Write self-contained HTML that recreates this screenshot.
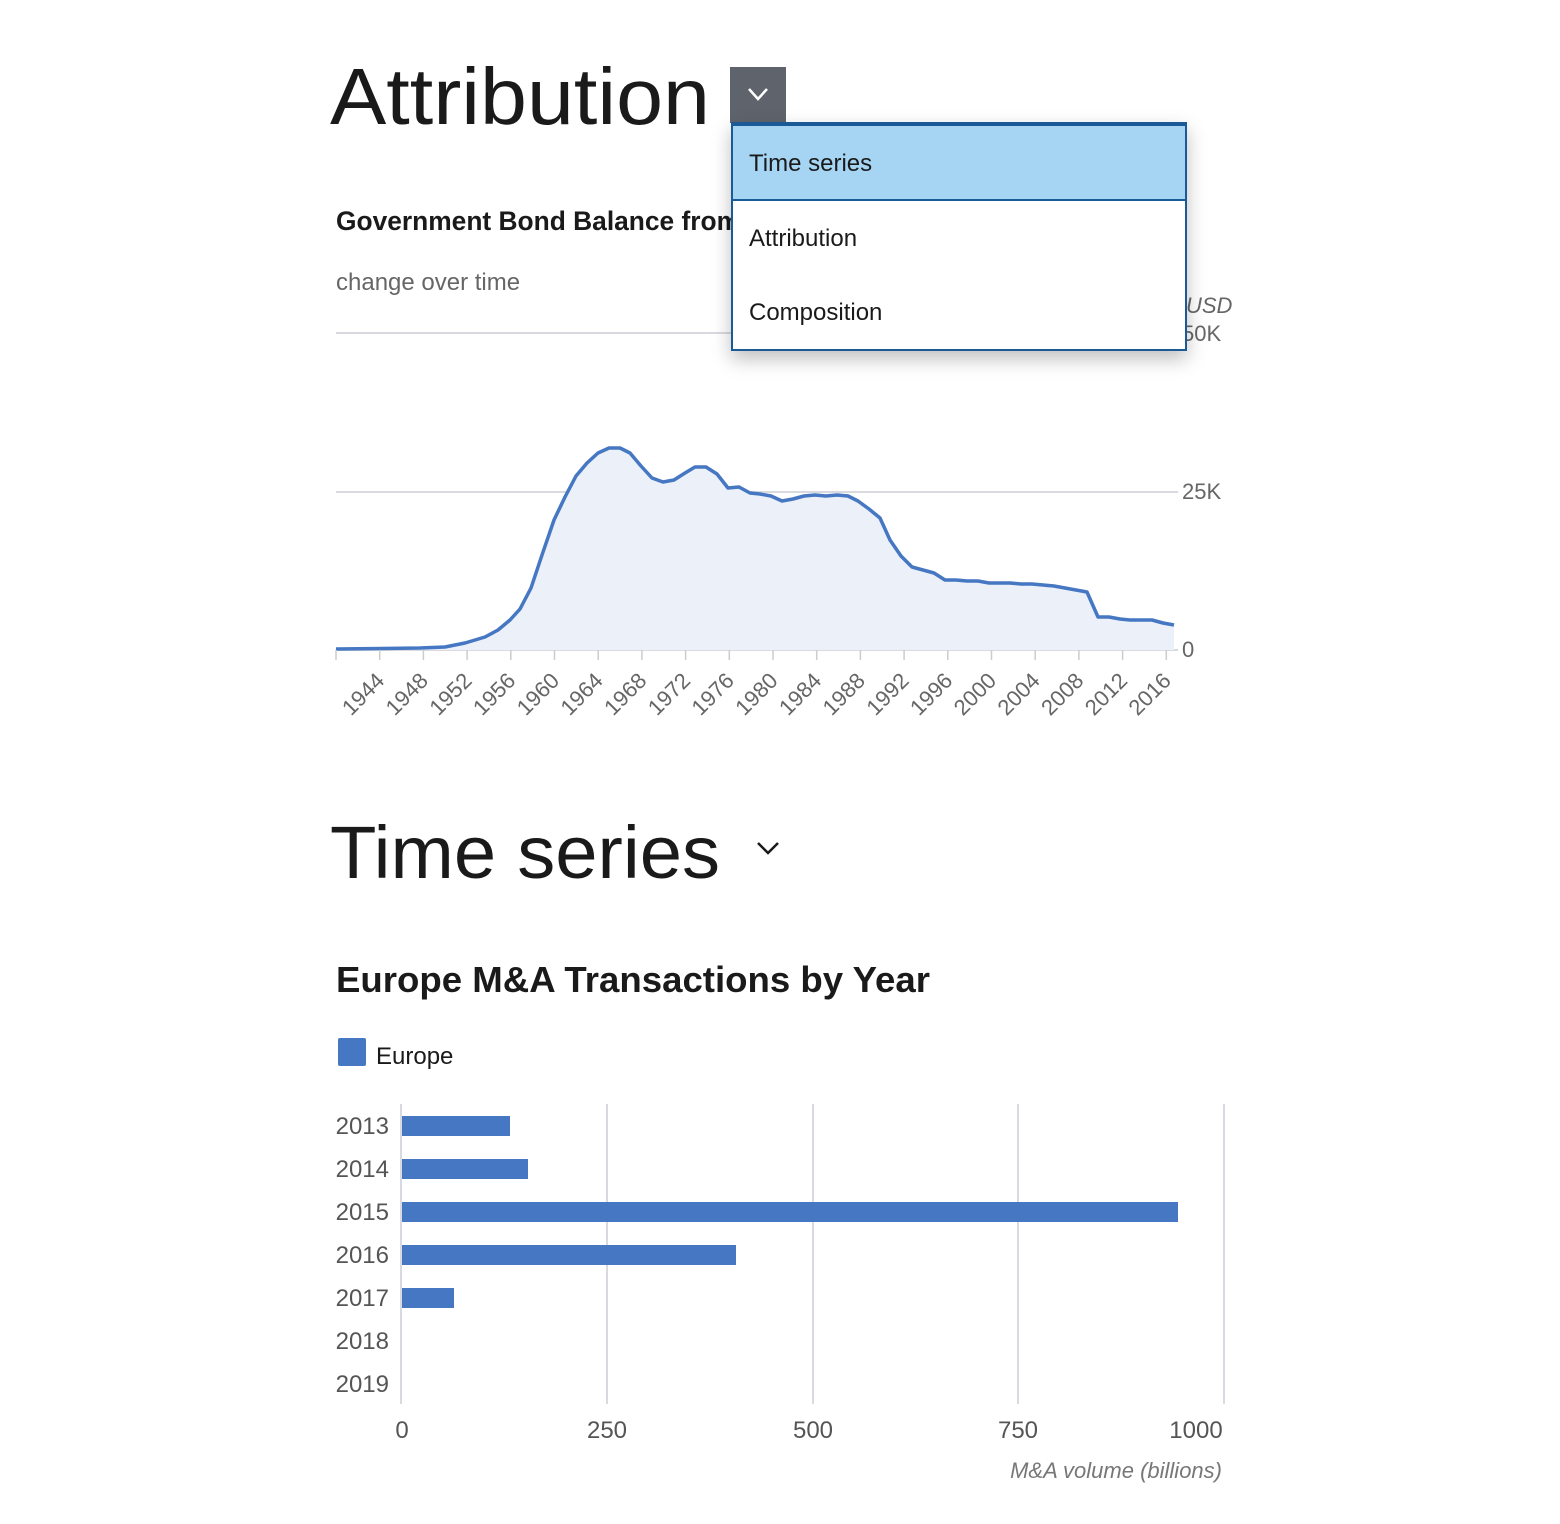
<!DOCTYPE html>
<html><head><meta charset="utf-8"><style>
html,body{margin:0;padding:0;background:#fff;}
body{width:1560px;height:1524px;position:relative;overflow:hidden;font-family:"Liberation Sans",sans-serif;}
svg text{font-family:"Liberation Sans",sans-serif;}
.dd{position:absolute;left:731px;top:122px;width:452px;height:223px;border:2px solid #1a5a96;border-top:4px solid #1a5a96;background:#fff;box-shadow:0 8px 18px rgba(0,0,0,0.25);}
.it{height:74px;font-size:24px;color:#1a1a1a;padding-left:16px;box-sizing:border-box;line-height:76px;}
.it.sel{background:#a6d5f3;border-bottom:2px solid #1a5a96;height:75px;}
</style></head><body>
<svg width="1560" height="1524" style="position:absolute;left:0;top:0">
<text x="330" y="124" font-size="80" fill="#1a1a1a" textLength="380" lengthAdjust="spacingAndGlyphs">Attribution</text>
<rect x="730" y="67" width="56" height="56" fill="#5f646c"/>
<polyline points="749,89 758,99 767,89" fill="none" stroke="#fff" stroke-width="2.5"/>
<text x="336" y="230" font-size="27" font-weight="bold" fill="#1a1a1a" textLength="470" lengthAdjust="spacingAndGlyphs">Government Bond Balance from 1942</text>
<text x="336" y="290" font-size="24" fill="#666">change over time</text>
<text x="1186" y="313" font-size="22" font-style="italic" fill="#666">USD</text>
<g stroke="#d8dadf" stroke-width="2"><line x1="336" y1="333" x2="1178" y2="333"/><line x1="336" y1="492" x2="1178" y2="492"/><line x1="336" y1="650" x2="1178" y2="650"/></g>
<g font-size="22" fill="#666"><text x="1182" y="341">50K</text><text x="1182" y="499">25K</text><text x="1182" y="657">0</text></g>
<path d="M336,649 L420,648 445,647 465,643 485,637 498,630 510,620 520,609 531,588 542,555 554,520 565,497 576,476 587,463 598,453 609,448 620,448 630,453 641,466 652,478 663,482 674,480 685,473 695,467 706,467 717,474 728,488 739,487 750,493 760,494 771,496 782,501 793,499 804,496 815,495 826,496 837,495 848,496 858,501 869,509 880,518 890,540 901,556 912,567 923,570 934,573 945,580 956,580 967,581 978,581 989,583 1000,583 1010,583 1021,584 1032,584 1043,585 1054,586 1065,588 1076,590 1087,592 1098,617 1109,617 1120,619 1130,620 1141,620 1152,620 1163,623 1174,625 L1174,650 L336,650Z" fill="#ebf0f9"/>
<polyline points="336,649 420,648 445,647 465,643 485,637 498,630 510,620 520,609 531,588 542,555 554,520 565,497 576,476 587,463 598,453 609,448 620,448 630,453 641,466 652,478 663,482 674,480 685,473 695,467 706,467 717,474 728,488 739,487 750,493 760,494 771,496 782,501 793,499 804,496 815,495 826,496 837,495 848,496 858,501 869,509 880,518 890,540 901,556 912,567 923,570 934,573 945,580 956,580 967,581 978,581 989,583 1000,583 1010,583 1021,584 1032,584 1043,585 1054,586 1065,588 1076,590 1087,592 1098,617 1109,617 1120,619 1130,620 1141,620 1152,620 1163,623 1174,625" fill="none" stroke="#4577c2" stroke-width="3.5" stroke-linejoin="round"/>
<g id="xt" stroke="#ccc" stroke-width="1.5"></g>
<g id="xl" font-size="22" fill="#666"></g>
<text x="330" y="878" font-size="74" fill="#1a1a1a" textLength="390" lengthAdjust="spacingAndGlyphs">Time series</text>
<polyline points="758,843 768,853 778,843" fill="none" stroke="#1a1a1a" stroke-width="2.5"/>
<text x="336" y="992" font-size="36" font-weight="bold" fill="#1a1a1a" textLength="594" lengthAdjust="spacingAndGlyphs">Europe M&amp;A Transactions by Year</text>
<rect x="338" y="1038" width="28" height="28" rx="2" fill="#4577c2"/>
<text x="376" y="1064" font-size="24" fill="#1a1a1a">Europe</text>
<g stroke="#d8dadf" stroke-width="2"><line x1="401" y1="1104" x2="401" y2="1404"/><line x1="607" y1="1104" x2="607" y2="1404"/><line x1="813" y1="1104" x2="813" y2="1404"/><line x1="1018" y1="1104" x2="1018" y2="1404"/><line x1="1224" y1="1104" x2="1224" y2="1404"/></g>
<g fill="#4577c2"><rect x="402" y="1116" width="108" height="20"/><rect x="402" y="1159" width="126" height="20"/><rect x="402" y="1202" width="776" height="20"/><rect x="402" y="1245" width="334" height="20"/><rect x="402" y="1288" width="52" height="20"/></g>
<g font-size="24" fill="#555" text-anchor="end"><text x="389" y="1134">2013</text><text x="389" y="1177">2014</text><text x="389" y="1220">2015</text><text x="389" y="1263">2016</text><text x="389" y="1306">2017</text><text x="389" y="1349">2018</text><text x="389" y="1392">2019</text></g>
<g font-size="24" fill="#555" text-anchor="middle"><text x="402" y="1438">0</text><text x="607" y="1438">250</text><text x="813" y="1438">500</text><text x="1018" y="1438">750</text><text x="1196" y="1438">1000</text></g>
<text x="1222" y="1478" font-size="22" font-style="italic" fill="#777" text-anchor="end">M&amp;A volume (billions)</text>
</svg>
<div class="dd"><div class="it sel">Time series</div><div class="it">Attribution</div><div class="it">Composition</div></div>
<script>
var ns="http://www.w3.org/2000/svg",xt=document.getElementById("xt"),xl=document.getElementById("xl");
for(var i=0;i<20;i++){var x=336+i*43.7;var l=document.createElementNS(ns,"line");l.setAttribute("x1",x);l.setAttribute("x2",x);l.setAttribute("y1",650);l.setAttribute("y2",660);xt.appendChild(l);
if(i>=1){var t=document.createElementNS(ns,"text");var y=1940+i*4;t.textContent=y;t.setAttribute("text-anchor","end");t.setAttribute("transform","translate("+(x+6)+",682) rotate(-45)");xl.appendChild(t);}}
</script>
</body></html>
